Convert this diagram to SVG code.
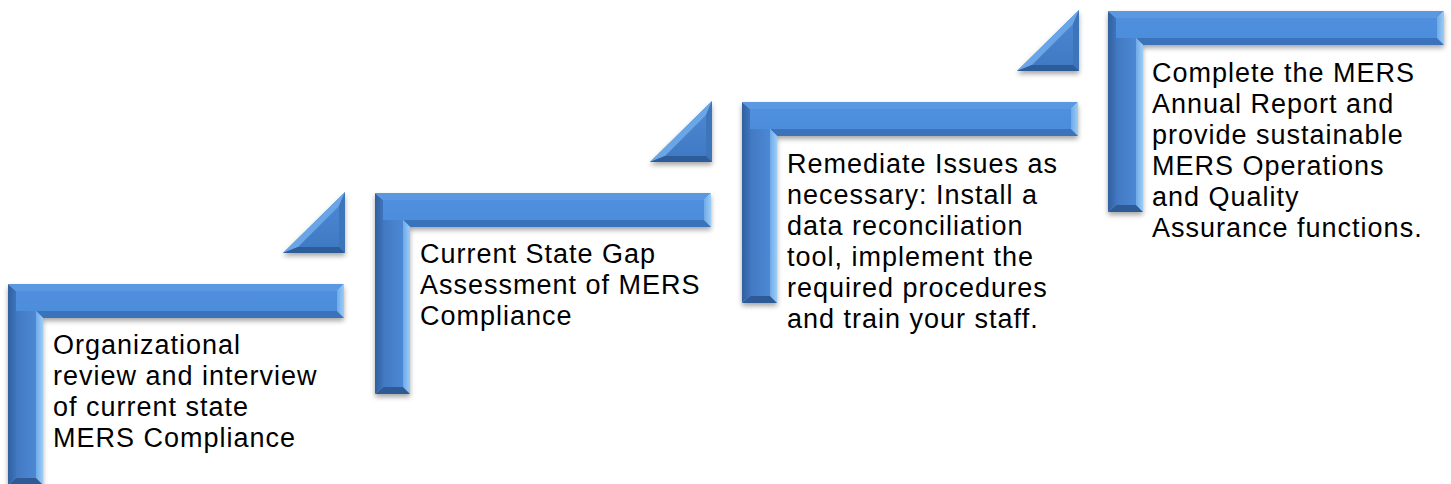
<svg xmlns="http://www.w3.org/2000/svg" xmlns:xlink="http://www.w3.org/1999/xlink" width="1451" height="484" viewBox="0 0 1451 484">
  <style>
    .lbl { font-family: "Liberation Sans", Arial, sans-serif; font-size: 27px; letter-spacing: 1px; fill: #000000; }
  </style>
  <defs>
    <filter id="shadow" x="-10%" y="-10%" width="120%" height="130%">
      <feDropShadow dx="0" dy="3" stdDeviation="2.5" flood-color="#000000" flood-opacity="0.35"/>
    </filter>
    <linearGradient id="hFace" x1="0" y1="0" x2="0" y2="1">
      <stop offset="0" stop-color="#4F8FDD"/>
      <stop offset="1" stop-color="#4583D2"/>
    </linearGradient>
    <linearGradient id="vFace" x1="0" y1="0" x2="1" y2="0">
      <stop offset="0" stop-color="#4278C2"/>
      <stop offset="1" stop-color="#4C88D4"/>
    </linearGradient>
    <linearGradient id="leftFacet" x1="0" y1="0" x2="1" y2="0">
      <stop offset="0" stop-color="#2F609F"/>
      <stop offset="1" stop-color="#3F74BC"/>
    </linearGradient>
    <linearGradient id="lightFacet" x1="0" y1="0" x2="1" y2="0">
      <stop offset="0" stop-color="#6EA9E8"/>
      <stop offset="1" stop-color="#9CCDF6"/>
    </linearGradient>
    <linearGradient id="triFace" x1="0" y1="0" x2="0" y2="1">
      <stop offset="0" stop-color="#4D8AD6"/>
      <stop offset="1" stop-color="#3F78C2"/>
    </linearGradient>
    <g id="corner">
      <polygon points="8,7 329,7 329,27 28,27 28,194 8,194" fill="url(#hFace)"/>
      <polygon points="8,27 28,27 28,194 8,194" fill="url(#vFace)"/>
      <polygon points="0,0 336,0 329,7 8,7" fill="#5A98E2"/>
      <polygon points="336,0 336,34 329,27 329,7" fill="url(#lightFacet)"/>
      <polygon points="35,34 336,34 329,27 28,27" fill="#3A72BC"/>
      <polygon points="0,0 8,7 8,194 0,201" fill="url(#leftFacet)"/>
      <polygon points="35,34 35,201 28,194 28,27" fill="url(#lightFacet)"/>
      <polygon points="0,201 8,194 28,194 35,201" fill="#2D5A96"/>
    </g>
    <g id="tri">
      <polygon points="0,61 62,0 62,61" fill="url(#triFace)"/>
      <polygon points="0,61 62,0 56,14 15,55" fill="#6BA6E6"/>
      <polygon points="62,0 62,61 56,55 56,14" fill="#3E74BA"/>
      <polygon points="0,61 62,61 56,55 15,55" fill="#2E5C98"/>
    </g>
  </defs>
  <rect width="1451" height="484" fill="#FFFFFF"/>

  <g id="accents">
    <use xlink:href="#tri" href="#tri" x="283" y="192" filter="url(#shadow)"/>
    <use xlink:href="#tri" href="#tri" x="650" y="101" filter="url(#shadow)"/>
    <use xlink:href="#tri" href="#tri" x="1017" y="10" filter="url(#shadow)"/>
  </g>

  <g id="step1">
    <use xlink:href="#corner" href="#corner" x="8" y="284" filter="url(#shadow)"/>
    <text class="lbl" x="53" y="354">Organizational<tspan x="53" dy="31">review and interview</tspan><tspan x="53" dy="31">of current state</tspan><tspan x="53" dy="31">MERS Compliance</tspan></text>
  </g>

  <g id="step2">
    <use xlink:href="#corner" href="#corner" x="375" y="193" filter="url(#shadow)"/>
    <text class="lbl" x="420" y="263">Current State Gap<tspan x="420" dy="31">Assessment of MERS</tspan><tspan x="420" dy="31">Compliance</tspan></text>
  </g>

  <g id="step3">
    <use xlink:href="#corner" href="#corner" x="742" y="102" filter="url(#shadow)"/>
    <text class="lbl" x="787" y="173">Remediate Issues as<tspan x="787" dy="31">necessary: Install a</tspan><tspan x="787" dy="31">data reconciliation</tspan><tspan x="787" dy="31">tool, implement the</tspan><tspan x="787" dy="31">required procedures</tspan><tspan x="787" dy="31">and train your staff.</tspan></text>
  </g>

  <g id="step4">
    <use xlink:href="#corner" href="#corner" x="1108" y="11" filter="url(#shadow)"/>
    <text class="lbl" x="1152" y="82">Complete the MERS<tspan x="1152" dy="31">Annual Report and</tspan><tspan x="1152" dy="31">provide sustainable</tspan><tspan x="1152" dy="31">MERS Operations</tspan><tspan x="1152" dy="31">and Quality</tspan><tspan x="1152" dy="31">Assurance functions.</tspan></text>
  </g>
</svg>
